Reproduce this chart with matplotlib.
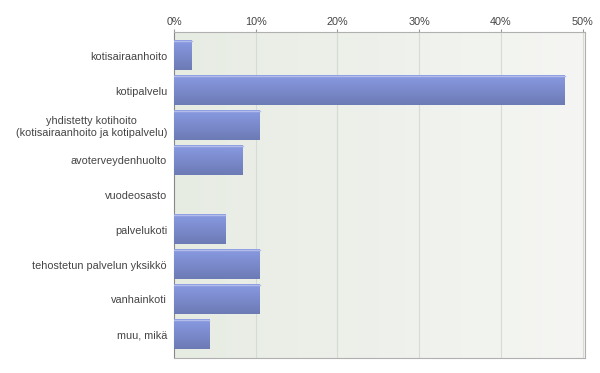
import numpy as np
import matplotlib
matplotlib.use("Agg")
import matplotlib.pyplot as plt
from matplotlib.colors import LinearSegmentedColormap

plt.rcParams['font.family'] = ['Liberation Sans', 'DejaVu Sans']

categories = ["kotisairaanhoito", "kotipalvelu",
              "yhdistetty kotihoito\n(kotisairaanhoito ja kotipalvelu)",
              "avoterveydenhuolto", "vuodeosasto", "palvelukoti",
              "tehostetun palvelun yksikkö", "vanhainkoti", "muu, mikä"]
values = [2.2, 47.8, 10.5, 8.4, 0.0, 6.3, 10.5, 10.5, 4.3]
xticks = [0, 10, 20, 30, 40, 50]
xticklabels = ["0%", "10%", "20%", "30%", "40%", "50%"]

fig = plt.figure(figsize=(6.0, 3.73), dpi=100)
ax = fig.add_axes([174/600, 15/373, 411/600, 326/373])

# background gradient
bg = LinearSegmentedColormap.from_list("bg", ["#e7ece3", "#f5f6f3"])
ax.imshow(np.linspace(0, 1, 256)[None, :], cmap=bg, aspect="auto",
          extent=(0, 1, 0, 1), transform=ax.transAxes, zorder=0)

y = np.arange(len(categories))
bars = ax.barh(y, values, height=0.835, color="#7b8ad0", edgecolor="none", zorder=2)

# vertical gradient on each bar, lighter on top
barcm = LinearSegmentedColormap.from_list("bar", ["#6c7ab5", "#8a9ae2"])
for b in bars:
    w = b.get_width()
    if w <= 0:
        continue
    y0 = b.get_y()
    h = b.get_height()
    ax.imshow(np.linspace(0, 1, 64)[:, None], cmap=barcm, aspect="auto",
              extent=(0, w, y0 + h, y0), origin="lower", zorder=3)
    ax.plot([0, w], [y0, y0], color="#b4bdea", lw=1, zorder=4)

ax.set_xlim(0, 50.3)
ax.set_ylim(len(categories) - 1 + 0.69, -0.69)
ax.set_yticks(y)
ax.set_yticklabels(categories, fontsize=7.8, color="#444444",
                   multialignment="center", linespacing=1.15)
ax.set_xticks(xticks)
ax.set_xticklabels(xticklabels, fontsize=7.8, color="#444444")
ax.xaxis.tick_top()
ax.tick_params(axis="x", length=2, color="#999999", pad=1.5)
ax.tick_params(axis="y", length=0, pad=5)
ax.grid(axis="x", color="#d6dbd3", lw=0.8, zorder=1)
ax.set_axisbelow(True)

for s in ["top", "right", "bottom"]:
    ax.spines[s].set_color("#b0b0b0")
ax.spines["left"].set_color("#888888")

fig.savefig("out.png", dpi=100)
